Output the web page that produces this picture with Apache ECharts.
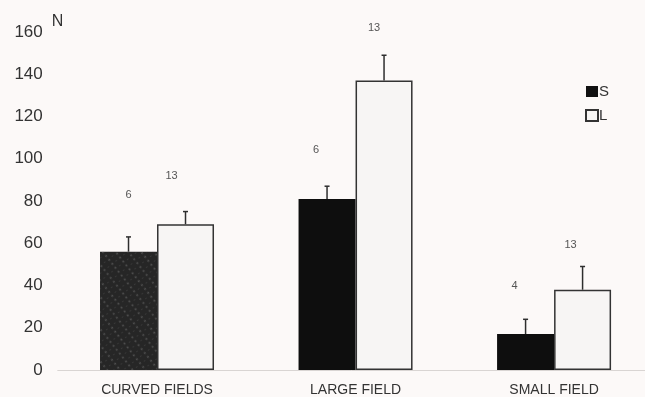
<!DOCTYPE html>
<html>
<head>
<meta charset="utf-8">
<script src="https://cdn.jsdelivr.net/npm/echarts@6/dist/echarts.min.js"></script>
<style>
html,body{margin:0;padding:0;background:#fcf9f8;}
#chart{width:645px;height:397px;}
</style>
</head>
<body>
<div id="chart"></div>
<script>
// ---- data ----
const categories = ['CURVED FIELDS', 'LARGE FIELD', 'SMALL FIELD'];
const sValues = [56, 81, 17];
const lValues = [69, 137, 38];
const sErr = [7, 6, 7];      // upper error (SE)
const lErr = [6, 12, 11];
const sN = [6, 6, 4];
const lN = [13, 13, 13];
const yMin = 0, yMax = 160, yStep = 20;

// ---- styling constants ----
const BAR_W = 57;
const FONT = '"Liberation Sans", Arial, Helvetica, sans-serif';
const ink = '#2e2e2e';
const sLabelDist = [51, 43, 43];
const lLabelDist = [43, 47, 39];
const sLabelDx = [0, -11, -11];
const lLabelDx = [-14, -10, -12];

function errSeries(vals, errs, dx) {
  return {
    type: 'custom',
    silent: true,
    z: 5,
    data: vals.map((v, i) => [i, v, v + errs[i]]),
    renderItem: function (params, api) {
      const p0 = api.coord([api.value(0), api.value(1)]);
      const p1 = api.coord([api.value(0), api.value(2)]);
      const x = p0[0] + dx;
      return {
        type: 'group',
        children: [
          { type: 'line', shape: { x1: x, y1: p0[1], x2: x, y2: p1[1] }, style: { stroke: ink, lineWidth: 1.5 } },
          { type: 'line', shape: { x1: x - 2.5, y1: p1[1], x2: x + 2.5, y2: p1[1] }, style: { stroke: ink, lineWidth: 1.5 } }
        ]
      };
    }
  };
}

function barData(vals, ns, styleFn, dxs, dists) {
  return vals.map((v, i) => ({
    value: [i, v],
    itemStyle: styleFn(i),
    label: { formatter: String(ns[i]), offset: [dxs[i], 0], distance: dists[i] }
  }));
}

const chart = echarts.init(document.getElementById('chart'), null, { renderer: 'canvas' });
chart.setOption({
  backgroundColor: '#fcf9f8',
  animation: false,
  textStyle: { fontFamily: FONT },
  grid: { left: 57.75, top: 32, right: 0, height: 338, containLabel: false },
  legend: {
    orient: 'vertical',
    left: 585,
    top: 84,
    padding: 0,
    icon: 'rect',
    itemWidth: 12,
    itemHeight: 11,
    itemGap: 9,
    data: ['S', 'L'],
    textStyle: { fontFamily: FONT, fontSize: 15, color: '#333', padding: [0, 0, 0, -4] }
  },
  xAxis: {
    type: 'value',
    min: -0.5,
    max: 2.458,
    splitLine: { show: false },
    axisLine: { show: true, onZero: false, lineStyle: { color: '#d9d5d3', width: 1 } },
    axisTick: { show: false },
    axisLabel: {
      color: '#333', fontSize: 14, margin: 13, fontFamily: FONT,
      customValues: [0, 1, 2],
      formatter: (v) => categories[Math.round(v)] || ''
    }
  },
  yAxis: {
    type: 'value',
    min: yMin,
    max: yMax,
    interval: yStep,
    name: 'N',
    nameLocation: 'end',
    nameGap: 2,
    nameTextStyle: { fontSize: 16, color: '#333', align: 'left', padding: [0, 0, 0, -6], fontFamily: FONT },
    axisLine: { show: false, onZero: false },
    axisTick: { show: false },
    splitLine: { show: false },
    axisLabel: { color: '#333', fontSize: 17, margin: 15, fontFamily: FONT }
  },
  series: [
    {
      name: 'S',
      type: 'bar',
      barWidth: BAR_W,
      barGap: '0%',
      itemStyle: { color: '#111111' },
      label: { show: true, position: 'top', fontSize: 11, color: '#555', fontFamily: FONT },
      data: barData(sValues, sN, (i) => i === 0 ? {
        color: '#262626',
        decal: { symbol: 'circle', symbolSize: 1, color: 'rgba(125,125,125,0.5)', dashArrayX: [[3, 2], [1, 5]], dashArrayY: [2, 3], rotation: 0.9 }
      } : { color: '#0e0e0e' }, sLabelDx, sLabelDist)
    },
    {
      name: 'L',
      type: 'bar',
      barWidth: BAR_W,
      barGap: '0%',
      itemStyle: { color: '#f7f5f4', borderColor: '#333', borderWidth: 1.5 },
      label: { show: true, position: 'top', fontSize: 11, color: '#555', fontFamily: FONT },
      data: barData(lValues, lN, () => ({}), lLabelDx, lLabelDist)
    },
    errSeries(sValues, sErr, -BAR_W / 2),
    errSeries(lValues, lErr, BAR_W / 2)
  ]
});
</script>
</body>
</html>
